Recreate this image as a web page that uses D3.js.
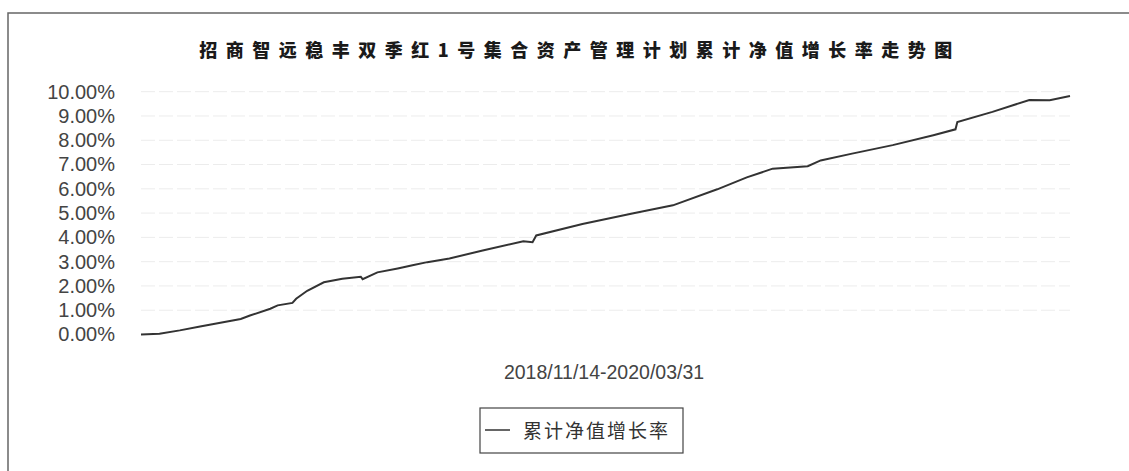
<!DOCTYPE html>
<html>
<head>
<meta charset="utf-8">
<script src="https://cdn.jsdelivr.net/npm/d3@7"></script>
<style>
  body { margin: 0; background: #fff; }
  text { font-family: Arial, "Liberation Sans", sans-serif; }
</style>
</head>
<body>
<svg id="chart" width="1129" height="471"></svg>
<script>
// values (cumulative net value growth, %)
const dates = ["2018-11-14","2018-11-24","2018-12-05","2018-12-16","2018-12-27","2019-01-07",
  "2019-01-12","2019-01-23","2019-01-27","2019-02-04","2019-02-06","2019-02-12","2019-02-21",
  "2019-03-03","2019-03-13","2019-03-14","2019-03-22","2019-04-02","2019-04-10","2019-04-18",
  "2019-04-30","2019-05-18","2019-06-09","2019-06-14","2019-06-16","2019-07-11","2019-08-07",
  "2019-08-29","2019-09-22","2019-10-08","2019-10-22","2019-11-10","2019-11-17","2019-12-04",
  "2019-12-26","2020-01-17","2020-01-29","2020-01-30","2020-02-18","2020-03-09","2020-03-20",
  "2020-03-31"];
const growth = [0.00,0.03,0.17,0.33,0.48,0.64,
  0.78,1.06,1.20,1.30,1.47,1.80,2.15,
  2.30,2.38,2.28,2.56,2.72,2.85,2.98,
  3.13,3.46,3.84,3.80,4.08,4.55,4.98,
  5.32,5.98,6.47,6.83,6.93,7.17,7.45,
  7.80,8.21,8.45,8.75,9.17,9.66,9.65,
  9.82];
const yTicks = [0,1,2,3,4,5,6,7,8,9,10];
const title = "招商智远稳丰双季红1号集合资产管理计划累计净值增长率走势图";
const periodLabel = "2018/11/14-2020/03/31";
const seriesName = "累计净值增长率";

const svg = d3.select("#chart");
const parse = d3.utcParse("%Y-%m-%d");
const data = dates.map((d, i) => ({date: parse(d), v: growth[i]}));

const x = d3.scaleUtc()
  .domain([parse("2018-11-14"), parse("2020-03-31")])
  .range([141, 1070]);
const y = d3.scaleLinear().domain([0, 10]).range([334.5, 91.7]);

// frame (only top and left edges show in the scan)
svg.append("path")
  .attr("d", "M8,471V13H1129")
  .attr("fill", "none")
  .attr("stroke", "#666")
  .attr("stroke-width", 1.5);

svg.append("text")
  .attr("x", 580).attr("y", 57)
  .attr("text-anchor", "middle")
  .style("font-family", "'Noto Sans CJK SC', sans-serif")
  .style("font-size", "18px")
  .style("font-weight", "900")
  .style("letter-spacing", "8.5px")
  .attr("fill", "#1a1a1a")
  .text(title);

// grid
svg.append("g")
  .selectAll("line")
  .data(yTicks.slice(1))
  .join("line")
  .attr("x1", 141).attr("x2", 1070)
  .attr("y1", d => y(d)).attr("y2", d => y(d))
  .attr("stroke", "#ececec")
  .attr("stroke-dasharray", "14,4");

const yAxis = svg.append("g")
  .attr("transform", "translate(119,0)")
  .call(d3.axisLeft(y).tickValues(yTicks).tickSize(0).tickPadding(4)
    .tickFormat(d => d.toFixed(2) + "%"));
yAxis.select(".domain").remove();
yAxis.selectAll("text")
  .style("font-size", "20px")
  .attr("fill", "#444");

svg.append("path")
  .datum(data)
  .attr("fill", "none")
  .attr("stroke", "#333")
  .attr("stroke-width", 2)
  .attr("d", d3.line().x(d => x(d.date)).y(d => y(d.v)));

svg.append("text")
  .attr("x", 604).attr("y", 379)
  .attr("text-anchor", "middle")
  .style("font-size", "19.5px")
  .attr("fill", "#444")
  .text(periodLabel);

// legend
const lg = svg.append("g");
lg.append("rect")
  .attr("x", 480).attr("y", 408)
  .attr("width", 203).attr("height", 45)
  .attr("fill", "#fff")
  .attr("stroke", "#444")
  .attr("stroke-width", 1.2);
lg.append("line")
  .attr("x1", 485).attr("x2", 510)
  .attr("y1", 430).attr("y2", 430)
  .attr("stroke", "#333").attr("stroke-width", 1.5);
lg.append("text")
  .attr("x", 523).attr("y", 438)
  .style("font-family", "'Noto Sans CJK SC', sans-serif")
  .style("font-size", "19px")
  .style("letter-spacing", "2px")
  .attr("fill", "#333")
  .text(seriesName);
</script>
</body>
</html>
